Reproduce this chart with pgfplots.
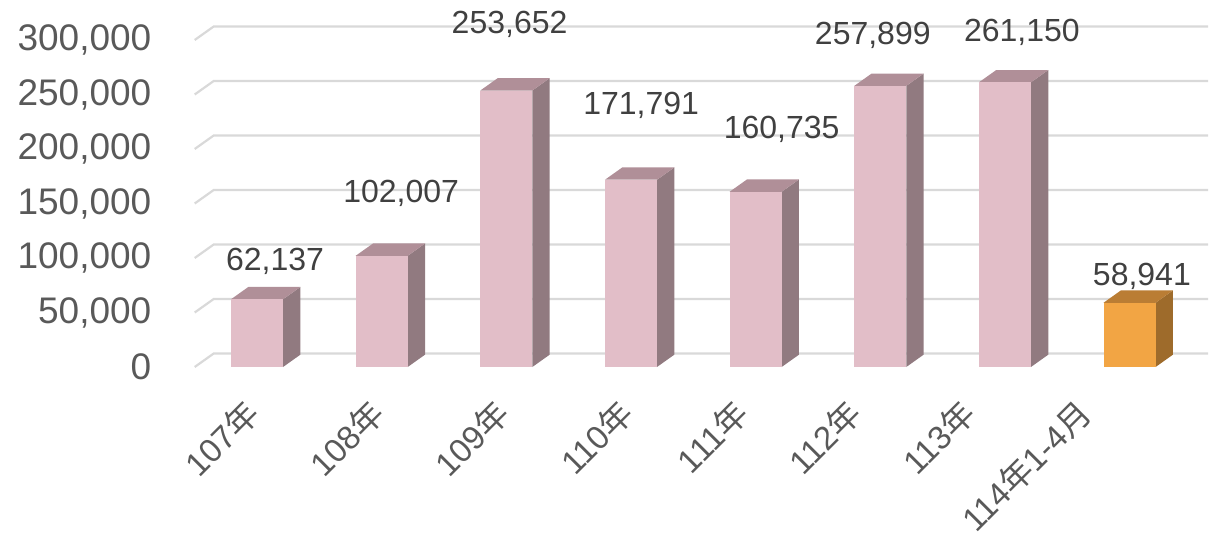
\documentclass[border=0pt]{standalone}
\usepackage{fontspec}
\setmainfont{Liberation Sans}
\newfontfamily\cjk{Noto Sans CJK TC}
\usepackage{pgfplots}
\pgfplotsset{compat=1.18}

\definecolor{pinkF}{HTML}{E2BEC8}
\definecolor{pinkS}{HTML}{917A80}
\definecolor{pinkT}{HTML}{B08F98}
\definecolor{orgF}{HTML}{F2A544}
\definecolor{orgS}{HTML}{9E6B2B}
\definecolor{orgT}{HTML}{BA7D34}
\definecolor{gridc}{HTML}{D9D9D9}
\definecolor{tickc}{HTML}{595959}
\definecolor{labc}{HTML}{404040}

% bar geometry (axis units)
\def\hw{0.2087}
\def\ddx{0.139}
\def\ddy{11300}
% wall geometry
\def\wdx{0.1525}
\def\wdy{12385}

% #1 x, #2 value, #3 front, #4 side, #5 top
\newcommand{\barthreed}[5]{%
  \edef\tmp{%
    \noexpand\addplot[fill=#4,draw=none,forget plot] coordinates {(\fpeval{#1+\hw},0) (\fpeval{#1+\hw+\ddx},\ddy) (\fpeval{#1+\hw+\ddx},\fpeval{#2+\ddy}) (\fpeval{#1+\hw},#2)};
    \noexpand\addplot[fill=#5,draw=none,forget plot] coordinates {(\fpeval{#1-\hw},#2) (\fpeval{#1+\hw},#2) (\fpeval{#1+\hw+\ddx},\fpeval{#2+\ddy}) (\fpeval{#1-\hw+\ddx},\fpeval{#2+\ddy})};
    \noexpand\addplot[fill=#3,draw=none,forget plot] coordinates {(\fpeval{#1-\hw},0) (\fpeval{#1+\hw},0) (\fpeval{#1+\hw},#2) (\fpeval{#1-\hw},#2)};
  }\tmp}

\newcommand{\gridl}[1]{%
  \edef\tmp{%
    \noexpand\addplot[gridc,line width=1.1bp,forget plot] coordinates {(-0.5,#1) (\fpeval{-0.5+\wdx},\fpeval{#1+\wdy}) (7.63,\fpeval{#1+\wdy})};
  }\tmp}

\begin{document}
\begin{tikzpicture}
\begin{axis}[
  at={(0,0)}, anchor=south west,
  scale only axis,
  width=498.6bp, height=163.5bp,
  xmin=-0.5, xmax=7.5, ymin=0, ymax=300000,
  clip=false,
  axis line style={draw=none},
  tick style={draw=none},
  xtick=\empty,
  ytick={0,50000,100000,150000,200000,250000,300000},
  scaled y ticks=false,
  yticklabel style={anchor=east, inner sep=0pt, xshift=-21.5bp,
    font=\fontsize{18.5bp}{22bp}\selectfont, text=tickc,
    /pgf/number format/.cd, fixed, 1000 sep={,}, assume math mode=true},
]
\gridl{0}
\gridl{50000}
\gridl{100000}
\gridl{150000}
\gridl{200000}
\gridl{250000}
\gridl{300000}

\barthreed{0}{62137}{pinkF}{pinkS}{pinkT}
\barthreed{1}{102007}{pinkF}{pinkS}{pinkT}
\barthreed{2}{253652}{pinkF}{pinkS}{pinkT}
\barthreed{3}{171791}{pinkF}{pinkS}{pinkT}
\barthreed{4}{160735}{pinkF}{pinkS}{pinkT}
\barthreed{5}{257899}{pinkF}{pinkS}{pinkT}
\barthreed{6}{261150}{pinkF}{pinkS}{pinkT}
\barthreed{7}{58941}{orgF}{orgS}{orgT}

\begin{scope}[every node/.style={anchor=base, inner sep=0pt, text=labc, font=\fontsize{16bp}{19bp}\selectfont}]
\node at (axis cs:0.1445,88991) {62,137};
\node at (axis cs:1.156,151376) {102,007};
\node at (axis cs:2.026,305505) {253,652};
\node at (axis cs:3.082,231193) {171,791};
\node at (axis cs:4.209,210092) {160,735};
\node at (axis cs:4.940,295413) {257,899};
\node at (axis cs:6.136,298165) {261,150};
\node at (axis cs:7.099,75229) {58,941};
\end{scope}

\begin{scope}[every node/.style={rotate=45, anchor=east, inner sep=0pt, text=tickc, font=\fontsize{16.5bp}{19bp}\selectfont}]
\node at (axis cs:-0.032,-36697) {107{\cjk 年}};
\node at (axis cs:0.971,-36697) {108{\cjk 年}};
\node at (axis cs:1.974,-36697) {109{\cjk 年}};
\node at (axis cs:2.969,-36697) {110{\cjk 年}};
\node at (axis cs:3.891,-36697) {111{\cjk 年}};
\node at (axis cs:4.798,-36697) {112{\cjk 年}};
\node at (axis cs:5.712,-36697) {113{\cjk 年}};
\node at (axis cs:6.643,-36697) {114{\cjk 年}1-4{\cjk 月}};
\end{scope}
\end{axis}
\pgfresetboundingbox
\path[use as bounding box] (-97.35bp,-87.5bp) rectangle (513.65bp,183.5bp);
\end{tikzpicture}
\end{document}
